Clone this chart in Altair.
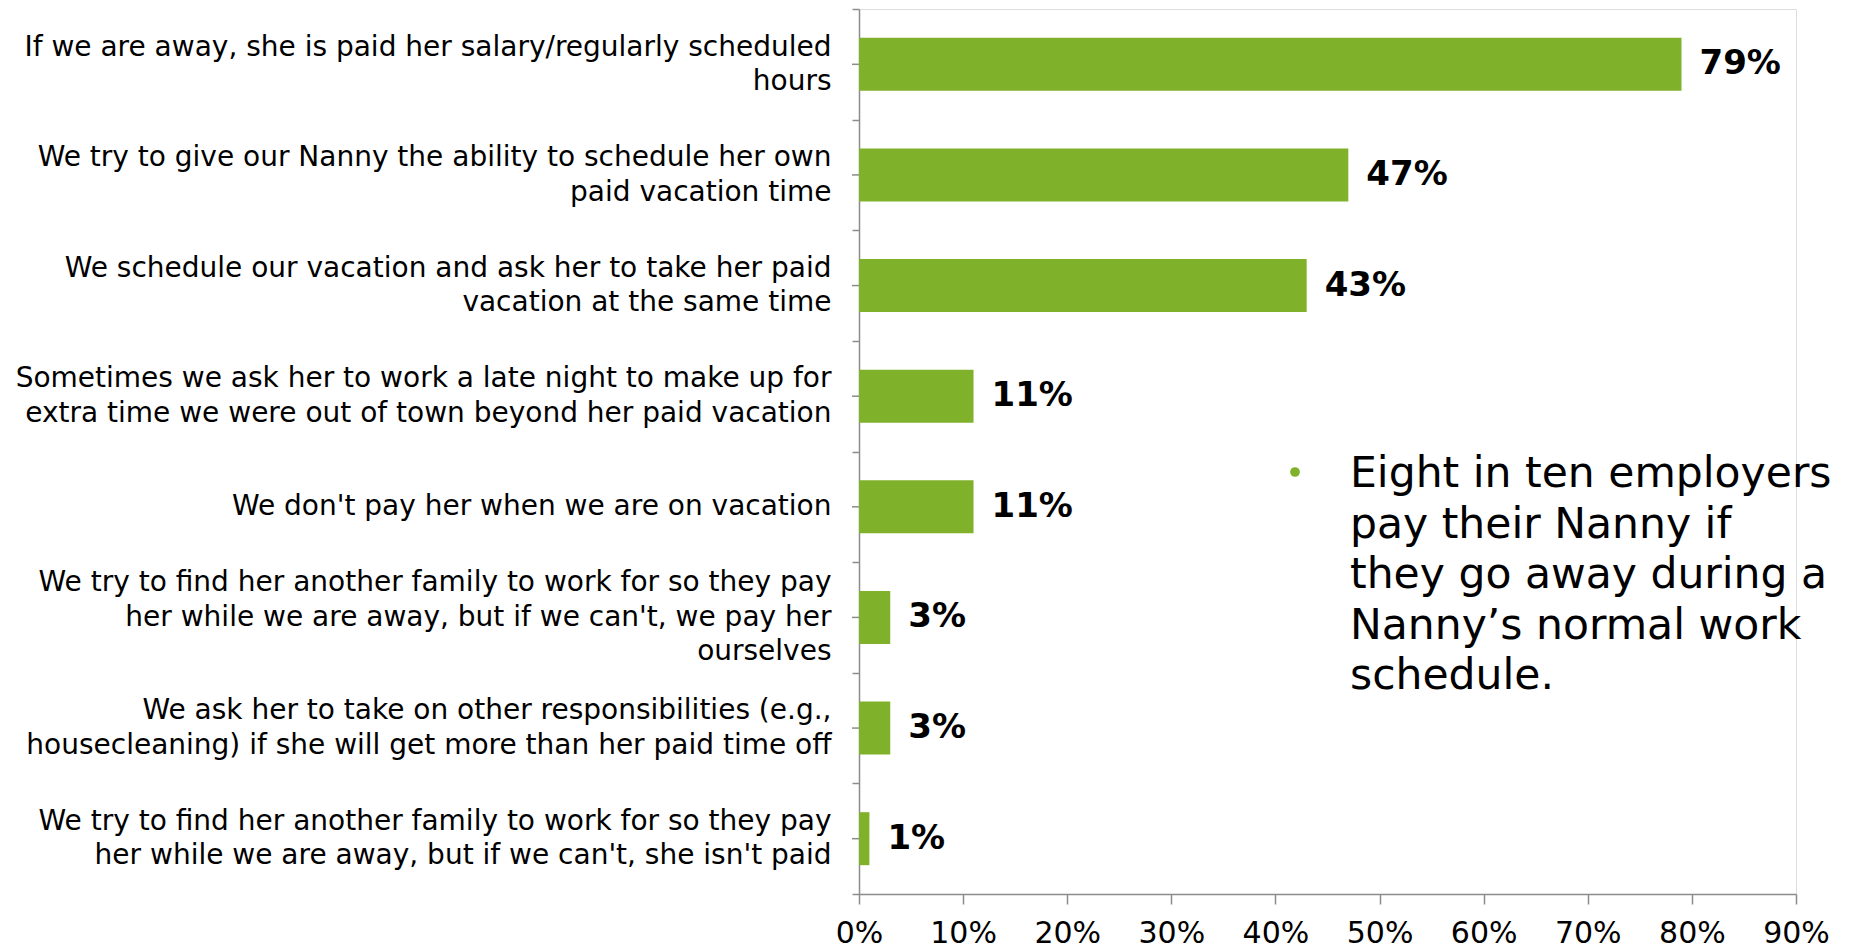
import altair as alt
import pandas as pd

categories = [
    "If we are away, she is paid her salary/regularly scheduled|hours",
    "We try to give our Nanny the ability to schedule her own|paid vacation time",
    "We schedule our vacation and ask her to take her paid|vacation at the same time",
    "Sometimes we ask her to work a late night to make up for|extra time we were out of town beyond her paid vacation",
    "We don't pay her when we are on vacation",
    "We try to find her another family to work for so they pay|her while we are away, but if we can't, we pay her|ourselves",
    "We ask her to take on other responsibilities (e.g.,|housecleaning) if she will get more than her paid time off",
    "We try to find her another family to work for so they pay|her while we are away, but if we can't, she isn't paid",
]
values = [79, 47, 43, 11, 11, 3, 3, 1]
x_ticks = [0, 10, 20, 30, 40, 50, 60, 70, 80, 90]
note_lines = [
    "Eight in ten employers",
    "pay their Nanny if",
    "they go away during a",
    "Nanny\u2019s normal work",
    "schedule.",
]

GREEN = "#80B12A"
GRAY = "#8C8C8C"
FONT = "DejaVu Sans"
LH = 34.5

df = pd.DataFrame({"cat": categories, "val": values})
df["lbl"] = df["val"].astype(str) + "%"

label_offset = {
    "condition": [
        {"test": "length(split(datum.value, '|')) == 3", "value": -LH},
        {"test": "length(split(datum.value, '|')) == 2", "value": -LH / 2},
    ],
    "value": 0,
}

y_enc = alt.Y(
    "cat:N",
    sort=None,
    title=None,
    scale=alt.Scale(paddingInner=0, paddingOuter=0),
    axis=alt.Axis(
        labelExpr="split(datum.label, '|')",
        labelFont=FONT,
        labelFontSize=28,
        labelLineHeight=LH,
        labelColor="#000000",
        labelAlign="right",
        labelBaseline="middle",
        labelOffset=label_offset,
        labelLimit=1000,
        labelPadding=21,
        tickBand="extent",
        tickSize=7,
        tickColor=GRAY,
        tickWidth=1.5,
        domainColor=GRAY,
        domainWidth=1.5,
        grid=False,
    ),
)

x_enc = alt.X(
    "val:Q",
    title=None,
    scale=alt.Scale(domain=[0, 90], nice=False),
    axis=alt.Axis(
        values=x_ticks,
        labelExpr="datum.value + '%'",
        labelFont=FONT,
        labelFontSize=30,
        labelColor="#000000",
        labelPadding=14,
        labelFlush=False,
        labelOverlap=False,
        tickSize=10,
        tickColor=GRAY,
        tickWidth=1.5,
        domainColor=GRAY,
        domainWidth=1.5,
        grid=False,
    ),
)

base = alt.Chart(df)

bars = base.mark_bar(size=53, color=GREEN).encode(x=x_enc, y=y_enc)

mid_ticks = base.mark_rule(color=GRAY, strokeWidth=1.5).encode(
    y=alt.Y("cat:N", sort=None),
    x=alt.value(-7),
    x2=alt.value(0),
)

labels = base.mark_text(
    align="left", baseline="middle", dx=18, font=FONT, fontSize=34,
    fontWeight="bold", color="#000000",
).encode(x="val:Q", y=alt.Y("cat:N", sort=None), text="lbl:N")

note_df = pd.DataFrame({"k": [0]})
note = alt.Chart(note_df).mark_text(
    text=note_lines, align="left", baseline="alphabetic", font=FONT,
    fontSize=42.5, lineHeight=50.6, color="#000000",
).encode(x=alt.value(491), y=alt.value(478))

bullet = alt.Chart(note_df).mark_circle(size=95, color=GREEN, opacity=1).encode(
    x=alt.value(436), y=alt.value(463)
)

chart = alt.layer(bars, mid_ticks, labels, note, bullet).properties(
    width=937,
    height=885,
    autosize=alt.AutoSizeParams(type="none"),
    padding={"left": 851, "top": 1, "right": 45, "bottom": 57},
).configure_view(stroke=None).configure(background="white")

chart.save("out.html", embed_options={"renderer": "svg", "actions": False})
